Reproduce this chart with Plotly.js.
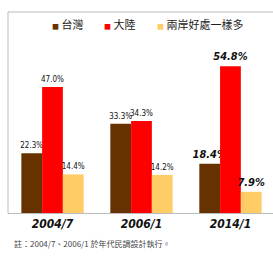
<!DOCTYPE html>
<html><head><meta charset="utf-8">
<script src="https://cdn.plot.ly/plotly-3.0.1.min.js"></script>
<style>html,body{margin:0;padding:0;background:#fff}#c{width:273px;height:258px}</style>
</head><body><div id="c"></div>
<script>
const categories = ['2004/7', '2006/1', '2014/1'];
const seriesNames = ['台灣', '大陸', '兩岸好處一樣多'];
const taiwan = [22.3, 33.3, 18.4];
const mainland = [47.0, 34.3, 54.8];
const same = [14.4, 14.2, 7.9];
const colors = ['#663300', '#FF0000', '#FFCC66'];
const note = '註：2004/7、2006/1 於年代民調設計執行。';

const narrow = '"Liberation Sans Narrow", "Arial Narrow", "DejaVu Sans Condensed", sans-serif';
function labels(vals) {
  return vals.map((v, i) => i === 2
    ? '<span style="font-size:11px;font-weight:bold"><i>' + v.toFixed(1) + '%</i></span>'
    : v.toFixed(1) + '%');
}
const series = [taiwan, mainland, same];
const traces = series.map((vals, k) => ({
  type: 'bar', x: categories, y: vals, name: seriesNames[k],
  marker: {color: colors[k]},
  text: labels(vals), textposition: 'outside', cliponaxis: false, constraintext: 'none',
  textfont: {family: narrow, size: 8, color: '#111'},
  hoverinfo: 'none'
}));

const legendX = [50, 102, 155];
const annotations = seriesNames.map((n, k) => ({
  xref: 'paper', yref: 'paper', x: (legendX[k] - 8) / 265, y: (213 - 24) / 201,
  xanchor: 'left', yanchor: 'middle', showarrow: false,
  text: '<span style="font-size:7px;color:' + colors[k] + '">■</span> ' + n,
  font: {family: '"Noto Sans CJK TC", sans-serif', size: 11, color: '#222'}
}));
annotations.push({
  xref: 'paper', yref: 'paper', x: (12 - 8) / 265, y: (213 - 243) / 201,
  xanchor: 'left', yanchor: 'middle', showarrow: false, text: note,
  font: {family: '"Noto Sans CJK TC", sans-serif', size: 8, color: '#444'}
});

Plotly.newPlot('c', traces, {
  width: 273, height: 258,
  margin: {l: 8, r: 0, t: 12, b: 45},
  paper_bgcolor: '#fff', plot_bgcolor: '#fff',
  showlegend: false,
  barmode: 'group', bargap: 0.3, bargroupgap: 0,
  xaxis: {type: 'category', range: [-0.5, 2.478], showline: true, linecolor: '#bbb',
    ticks: '', showgrid: false,
    tickfont: {family: narrow, size: 12, color: '#111', weight: 'bold', style: 'italic'}},
  yaxis: {range: [0, 75], visible: false, showgrid: false, zeroline: false},
  shapes: [
    {type: 'line', xref: 'paper', yref: 'paper', x0: 0, x1: 0, y0: 0, y1: 1, line: {color: '#bbb', width: 1}},
    {type: 'line', xref: 'paper', yref: 'paper', x0: 0, x1: 1, y0: 1, y1: 1, line: {color: '#bbb', width: 1}}
  ],
  annotations: annotations
}, {staticPlot: true});
</script></body></html>
